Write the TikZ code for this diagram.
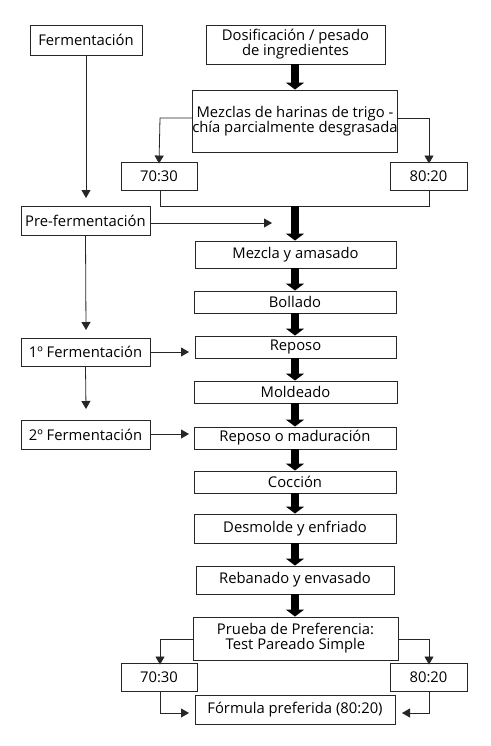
\documentclass[tikz,border=0pt]{standalone}
\usepackage{fontspec}
\setmainfont{Open Sans}
\usetikzlibrary{arrows.meta}
\begin{document}
\begin{tikzpicture}[x=1pt,y=-1pt,
  box/.style={draw=black!85,line width=0.9pt,fill=white,inner sep=0pt,align=center,
    font=\fontsize{14.8}{15}\selectfont},
  thin/.style={draw=black!85,line width=0.8pt},
  tarr/.style={thin,-{Triangle[length=8pt,width=9pt]}},
  bigarr/.style={draw=black,line width=8pt,-{Triangle[length=7pt,width=18pt]}}]
\useasboundingbox (0,0) rectangle (490,746);
% boxes
\node[box,minimum width=112,minimum height=30] (ferm) at (86,40) {Fermentación};
\node[box,minimum width=179,minimum height=39] (dosif) at (295.5,44.5) {Dosificación / pesado\\de ingredientes};
\node[box,minimum width=204,minimum height=62] (mezclas) at (295,121) {Mezclas de harinas de trigo -\\chía parcialmente desgrasada};
\node[box,minimum width=76,minimum height=28] (a1) at (159,176) {70:30};
\node[box,minimum width=77,minimum height=28] (b1) at (428.5,176) {80:20};
\node[box,minimum width=129,minimum height=29] (pre) at (85.5,220.5) {Pre-fermentación};
\node[box,minimum width=201,minimum height=27] (amas) at (295.5,254.5) {Mezcla y amasado};
\node[box,minimum width=202,minimum height=22] (boll) at (295,302) {Bollado};
\node[box,minimum width=201,minimum height=22] (rep) at (295.5,347) {Reposo};
\node[box,minimum width=203,minimum height=22] (mold) at (295.5,392) {Moldeado};
\node[box,minimum width=202,minimum height=22] (mad) at (295,438) {Reposo o maduración};
\node[box,minimum width=202,minimum height=22] (cocc) at (295,482) {Cocción};
\node[box,minimum width=202,minimum height=29] (desm) at (295,528.5) {Desmolde y enfriado};
\node[box,minimum width=198,minimum height=28] (reb) at (295,580) {Rebanado y envasado};
\node[box,minimum width=205,minimum height=43] (prueba) at (295.5,638.5) {Prueba de Preferencia:\\Test Pareado Simple};
\node[box,minimum width=76,minimum height=28] (a2) at (159,677) {70:30};
\node[box,minimum width=77,minimum height=28] (b2) at (428.5,677) {80:20};
\node[box,minimum width=200,minimum height=29] (form) at (295,709.5) {Fórmula preferida (80:20)};
\node[box,minimum width=129,minimum height=28] (f1) at (85.5,352) {1º Fermentación};
\node[box,minimum width=129,minimum height=29] (f2) at (85.5,434.5) {2º Fermentación};
% coordinates
\coordinate (c1) at (86,198);
\coordinate (c2) at (86,330);
\coordinate (c3) at (86,409);
\coordinate (c4) at (272,223);
\coordinate (c5) at (189,352);
\coordinate (c6) at (189,434);
\coordinate (mL) at (160,118);
\coordinate (mR) at (429,118);
\coordinate (jn) at (295,206);
\coordinate (jL) at (160,206);
\coordinate (jR) at (429,206);
\coordinate (pL) at (160,639);
\coordinate (pR) at (429,639);
\coordinate (fL) at (160,713);
\coordinate (fR) at (429,713);
\coordinate (fLe) at (189,713);
\coordinate (fRe) at (402,713);
% thin connectors
\draw[tarr] (ferm.south) -- (c1);
\draw[tarr] (pre.south) -- (c2);
\draw[tarr] (f1.south) -- (c3);
\draw[tarr] (pre.east |- c4) -- (c4);
\draw[tarr] (f1.east) -- (c5);
\draw[tarr] (f2.east |- c6) -- (c6);
\draw[tarr] (mezclas.west |- mL) -- (mL) -- ([yshift=-2]a1.north);
\draw[tarr] (mezclas.east |- mR) -- (mR) -- ([yshift=-2]b1.north -| mR);
\draw[thin] (a1.south -| jL) -- (jL) -- (jR) -- (b1.south -| jR);
\draw[tarr] (prueba.west |- pL) -- (pL) -- ([yshift=-2]a2.north -| pL);
\draw[tarr] (prueba.east |- pR) -- (pR) -- ([yshift=-2]b2.north -| pR);
\draw[tarr] (a2.south -| fL) -- (fL) -- (fLe);
\draw[tarr] (b2.south -| fR) -- (fR) -- (fRe);
% thick arrows
\draw[bigarr] (dosif.south -| 295,0) -- (mezclas.north -| 295,0);
\draw[bigarr] (jn) -- (amas.north -| jn);
\draw[bigarr] (amas.south -| jn) -- (boll.north -| jn);
\draw[bigarr] (boll.south -| jn) -- (rep.north -| jn);
\draw[bigarr] (rep.south -| jn) -- (mold.north -| jn);
\draw[bigarr] (mold.south -| jn) -- (mad.north -| jn);
\draw[bigarr] (mad.south -| jn) -- (cocc.north -| jn);
\draw[bigarr] (cocc.south -| jn) -- (desm.north -| jn);
\draw[bigarr] (desm.south -| jn) -- (reb.north -| jn);
\draw[bigarr] (reb.south -| jn) -- (prueba.north -| jn);
\end{tikzpicture}
\end{document}
